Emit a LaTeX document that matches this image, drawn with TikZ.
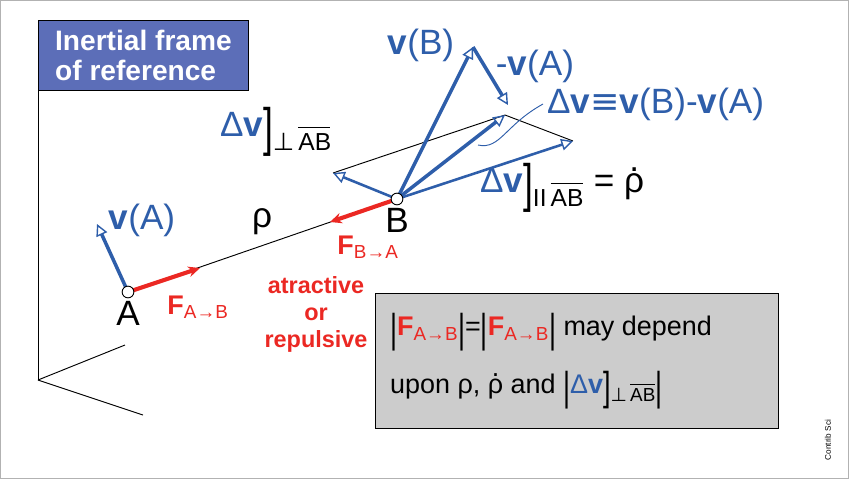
\documentclass[tikz,border=0pt]{standalone}
\usepackage{fontspec}
\usepackage{graphicx}
\setmainfont{Liberation Sans}
\newfontfamily\symfont{DejaVu Sans}
\usetikzlibrary{arrows.meta}
\definecolor{vblue}{RGB}{46,94,170}
\definecolor{fred}{RGB}{235,40,35}
\definecolor{boxblue}{RGB}{92,110,184}
\newcommand{\bv}{\textbf{v}}
\newcommand{\dv}{\textcolor{vblue}{Δ\bv}}
\newcommand{\rhodot}{\leavevmode\rlap{\hspace{0.15em}\raisebox{0.62em}{.}}ρ}
\newcommand{\tallbar}{\raisebox{-0.25em}{\scalebox{1}[1.5]{|}}}
\newcommand{\tallbrk}{\raisebox{-0.25em}{\scalebox{1}[1.5]{]}}}
\newcommand{\perpAB}{\textsubscript{{\symfont ⊥}\,\raisebox{0.15em}{\rlap{\rule[0.75em]{1.3em}{0.06em}}}AB}}
\newcommand{\parAB}{\textsubscript{II\,\raisebox{0.15em}{\rlap{\rule[0.75em]{1.3em}{0.06em}}}AB}}
\begin{document}
\begin{tikzpicture}[x=0.3mm,y=-0.3mm,
	vec/.style={vblue, line width=3pt, -{Triangle[open,length=10pt,width=10pt,line width=1.2pt]}},
	force/.style={fred, line width=3.5pt, -{Stealth[length=10pt,width=9pt]}},
	big/.style={font=\fontsize{30}{34}\selectfont},
	mid/.style={font=\fontsize{23}{27}\selectfont},
	pt/.style={circle, draw, fill=white, thick, inner sep=0pt, minimum size=10pt}]
	\useasboundingbox (0,0) rectangle (850,480);
	\draw[gray!60] (0,0) rectangle (848,478);
	% frame of reference
	\draw[thick] (38,50) -- (38,380) coordinate (o);
	\draw[thick] (o) -- (125,345);
	\draw[thick] (o) -- (143,415);
	\node[draw, thick, fill=boxblue, text=white, align=left, font=\fontsize{24}{26}\selectfont\bfseries,
		minimum width=63mm, minimum height=21mm, anchor=north west] (title) at (38,20)
		{Inertial frame\\of reference};
	% points
	\coordinate (pA) at (128,292);
	\coordinate (pB) at (397,199);
	\draw[thick] (pA) -- (pB);
	\node[big] (rho) at (262,222) {ρ};
	% velocities
	\coordinate (vA) at (97,224);
	\coordinate (vB) at (473,47);
	\coordinate (mvA) at (508,105);
	\coordinate (dv) at (505,115);
	\coordinate (dvpar) at (573,141);
	\coordinate (dvperp) at (333,173);
	\draw[thick] (dvperp) -- (dv) -- (dvpar);
	\draw[vec] (pA) -- (vA);
	\draw[vec] (pB) -- (vB);
	\draw[vec] (vB) -- (mvA);
	\draw[vec] (pB) -- (dv);
	\draw[vec, line width=2.2pt] (pB) -- (dvpar);
	\draw[vec, line width=2.2pt] (pB) -- (dvperp);
	% forces
	\draw[force] (pA) -- (200,268) coordinate (fab);
	\draw[force] (pB) -- (330,222) coordinate (fba);
	\node[pt] (A) at (pA) {};
	\node[pt] (B) at (pB) {};
	\node[big, below=-1pt] (lA) at (A.south) {A};
	\node[big, below=-1pt] (lB) at (B.south) {B};
	% labels
	\node[big, vblue] (lvA) at (142,220) {\bv(A)};
	\node[big, vblue] (lvB) at (421,45) {\bv(B)};
	\node[big, vblue] (lmvA) at (535,66) {-\bv(A)};
	\node[big, vblue, anchor=west] (ldv) at (543,104) {Δ\bv{\symfont ≡}\bv(B)-\bv(A)};
	\draw[vblue, thick] (ldv.west) .. controls (505,125) and (500,150) .. (478,145);
	\node[big, anchor=west] (lpar) at (476,188) {\dv\tallbrk\parAB\ = \rhodot};
	\node[big, anchor=west] (lperp) at (216,132) {\dv\tallbrk\perpAB};
	\node[mid, fred] (lfab) at (198,307) {\textbf{F}\textsubscript{A→B}};
	\node[mid, fred] (lfba) at (368,247) {\textbf{F}\textsubscript{B→A}};
	\node[fred, font=\fontsize{20}{23}\selectfont\bfseries, align=center] (latt) at (316,314)
		{atractive\\or\\repulsive};
	% relation box
	\node[draw, thick, fill=gray!40, anchor=north west, minimum width=121mm, minimum height=40.5mm] (rel) at (375,293) {};
	\node[mid, anchor=west] (r1) at (386,332)
		{\tallbar\textcolor{fred}{\textbf{F}\textsubscript{A→B}}\tallbar=\tallbar\textcolor{fred}{\textbf{F}\textsubscript{A→B}}\tallbar\ may depend};
	\node[mid, anchor=west] (r2) at (386,390)
		{upon ρ, \rhodot\ and \tallbar\dv\tallbrk\perpAB\tallbar};
	\node[rotate=90, font=\scriptsize] (credit) at (828,440) {Contrib Sci};
\end{tikzpicture}
\end{document}
